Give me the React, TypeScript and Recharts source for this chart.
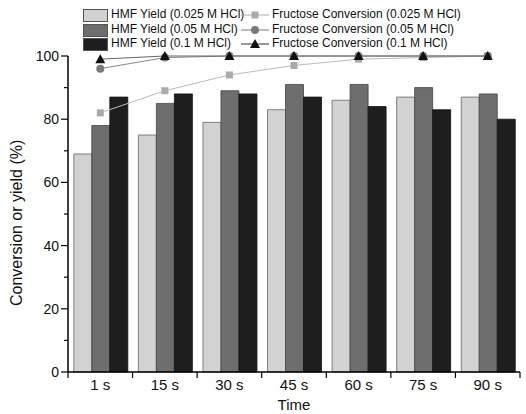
import React from "react"
import { ComposedChart, Bar, Line, XAxis, YAxis } from "recharts"

const times = ["1 s", "15 s", "30 s", "45 s", "60 s", "75 s", "90 s"]
const hmf025 = [69, 75, 79, 83, 86, 87, 87]
const hmf05 = [78, 85, 89, 91, 91, 90, 88]
const hmf1 = [87, 88, 88, 87, 84, 83, 80]
const conv025 = [82, 89, 94, 97, 99, 99.5, 100]
const conv05 = [96, 99.5, 100, 100, 100, 100, 100]
const conv1 = [99, 100, 100, 100, 100, 100, 100]
const yTicks = [0, 10, 20, 30, 40, 50, 60, 70, 80, 90, 100]

const data = times.map((t, i) => ({
  time: t,
  hmf025: hmf025[i],
  hmf05: hmf05[i],
  hmf1: hmf1[i],
  conv025: conv025[i],
  conv05: conv05[i],
  conv1: conv1[i],
}))

const font = "'Liberation Sans', Arial, sans-serif"
const LIGHT = "#d2d2d2"
const MID = "#6e6e6e"
const DARK = "#1e1e1e"

const XTick = (props: any) => {
  const { x, y, payload, index } = props
  const half = payload.offset || 32.3
  return (
    <g>
      <line x1={x - half} y1={y} x2={x - half} y2={y + 6} stroke="#000" strokeWidth={1.2} />
      {index === times.length - 1 && (
        <line x1={x + half} y1={y} x2={x + half} y2={y + 6} stroke="#000" strokeWidth={1.2} />
      )}
      <text x={x} y={y + 18} textAnchor="middle" fontSize={15} fontFamily={font} fill="#111">
        {payload.value}
      </text>
    </g>
  )
}

const YTick = (props: any) => {
  const { x, y, payload } = props
  const major = payload.value % 20 === 0
  return (
    <g>
      <line x1={x - (major ? 7 : 4)} y1={y} x2={x} y2={y} stroke="#000" strokeWidth={1.2} />
      {major && (
        <text x={x - 9} y={y + 5} textAnchor="end" fontSize={14} fontFamily={font} fill="#111">
          {payload.value}
        </text>
      )}
    </g>
  )
}

const Square = (props: any) => {
  const { cx, cy } = props
  return <rect x={cx - 3.5} y={cy - 3.5} width={7} height={7} fill="#aaaaaa" />
}

const Triangle = (props: any) => {
  const { cx, cy } = props
  return <polygon points={`${cx},${cy - 5} ${cx - 5},${cy + 4} ${cx + 5},${cy + 4}`} fill="#111" />
}

const Circle = (props: any) => {
  const { cx, cy } = props
  return <circle cx={cx} cy={cy} r={4} fill="#7a7a7a" />
}

const legendText: React.CSSProperties = { fontSize: 12, fontFamily: font, color: "#111", whiteSpace: "nowrap" }

function LegendBlock() {
  const rows = [
    { bar: LIGHT, barLabel: "HMF Yield (0.025 M HCl)", line: "#aaaaaa", mark: "sq", lineLabel: "Fructose Conversion (0.025 M HCl)" },
    { bar: MID, barLabel: "HMF Yield (0.05 M HCl)", line: "#7a7a7a", mark: "ci", lineLabel: "Fructose Conversion (0.05 M HCl)" },
    { bar: DARK, barLabel: "HMF Yield (0.1 M HCl)", line: "#333", mark: "tr", lineLabel: "Fructose Conversion (0.1 M HCl)" },
  ]
  return (
    <div style={{ position: "absolute", left: 83, top: 8 }}>
      {rows.map((r, i) => (
        <div key={i} style={{ position: "absolute", top: i * 14.5, left: 0, width: 400, height: 14 }}>
          <div style={{ position: "absolute", left: 0, top: 1, width: 23, height: 11, background: r.bar, border: "1px solid #555" }} />
          <div style={{ position: "absolute", left: 28, top: -1, ...legendText }}>{r.barLabel}</div>
          <svg style={{ position: "absolute", left: 158, top: 0 }} width={28} height={14}>
            <line x1={0} y1={7} x2={28} y2={7} stroke={r.line} strokeWidth={1} />
            {r.mark === "sq" && <rect x={10.5} y={3.5} width={7} height={7} fill="#aaaaaa" />}
            {r.mark === "ci" && <circle cx={14} cy={7} r={4} fill="#7a7a7a" />}
            {r.mark === "tr" && <polygon points="14,2 9,11 19,11" fill="#111" />}
          </svg>
          <div style={{ position: "absolute", left: 189, top: -1, ...legendText }}>{r.lineLabel}</div>
        </div>
      ))}
    </div>
  )
}

export default function App() {
  return (
    <div style={{ position: "absolute", left: 0, top: 0, width: 526, height: 414, background: "#fff" }}>
      <ComposedChart
        width={526}
        height={414}
        data={data}
        margin={{ top: 56, right: 6, bottom: 12, left: 8 }}
        barCategoryGap="9%"
        barGap={0}
      >
        <XAxis
          dataKey="time"
          height={30}
          tickSize={0}
          tickMargin={0}
          tickLine={false}
          tick={<XTick />}
          axisLine={{ stroke: "#000", strokeWidth: 1.5 }}
          interval={0}
          label={{ value: "Time", position: "insideBottom", offset: -8, fontSize: 15, fontFamily: font, fill: "#111" }}
        />
        <YAxis
          width={60}
          domain={[0, 100]}
          ticks={yTicks}
          interval={0}
          tickSize={0}
          tickMargin={0}
          tickLine={false}
          tick={<YTick />}
          axisLine={{ stroke: "#000", strokeWidth: 1.5 }}
          label={{ value: "Conversion or yield (%)", angle: -90, position: "insideLeft", offset: 8, dy: 92, fontSize: 16, fontFamily: font, fill: "#111" }}
        />
        <Bar dataKey="hmf025" fill={LIGHT} stroke="#666" strokeWidth={0.8} isAnimationActive={false} />
        <Bar dataKey="hmf05" fill={MID} stroke="#444" strokeWidth={0.8} isAnimationActive={false} />
        <Bar dataKey="hmf1" fill={DARK} stroke="#111" strokeWidth={0.8} isAnimationActive={false} />
        <Line dataKey="conv025" stroke="#bbbbbb" strokeWidth={1} dot={<Square />} isAnimationActive={false} />
        <Line dataKey="conv05" stroke="#888" strokeWidth={1} dot={<Circle />} isAnimationActive={false} />
        <Line dataKey="conv1" stroke="#666" strokeWidth={1} dot={<Triangle />} isAnimationActive={false} />
      </ComposedChart>
      <LegendBlock />
    </div>
  )
}
